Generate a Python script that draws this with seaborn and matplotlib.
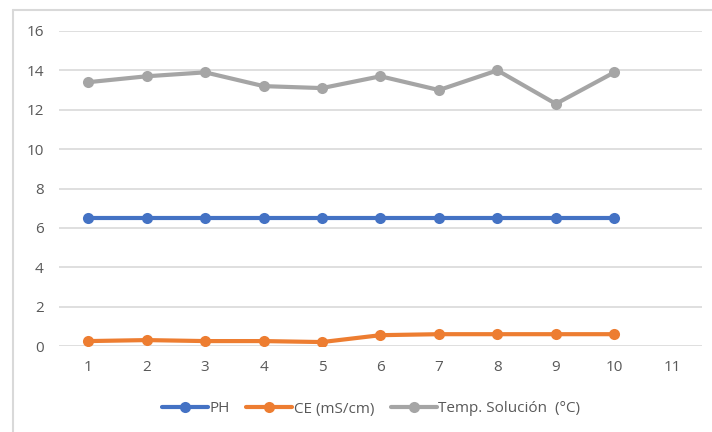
import matplotlib
matplotlib.use("Agg")
import matplotlib.pyplot as plt
from matplotlib.lines import Line2D
import seaborn as sns
import pandas as pd

categories = [1, 2, 3, 4, 5, 6, 7, 8, 9, 10, 11]
samples = [1, 2, 3, 4, 5, 6, 7, 8, 9, 10]
ph = [6.5, 6.5, 6.5, 6.5, 6.5, 6.5, 6.5, 6.5, 6.5, 6.5]
ce = [0.25, 0.3, 0.25, 0.25, 0.2, 0.55, 0.6, 0.6, 0.6, 0.6]
temp = [13.4, 13.7, 13.9, 13.2, 13.1, 13.7, 13.0, 14.0, 12.3, 13.9]
series_names = ["PH", "CE (mS/cm)", "Temp. Solución  (°C)"]
colors = ["#4472C4", "#ED7D31", "#A5A5A5"]

df = pd.concat([
    pd.DataFrame({"x": samples, "y": ph, "serie": series_names[0]}),
    pd.DataFrame({"x": samples, "y": ce, "serie": series_names[1]}),
    pd.DataFrame({"x": samples, "y": temp, "serie": series_names[2]}),
])

sns.set_style("white")
plt.rcParams["font.family"] = ["Open Sans", "DejaVu Sans"]

fig = plt.figure(figsize=(7.12, 4.32), dpi=100)
W, H = 712, 432
ax = fig.add_axes([59 / W, 1 - 346 / H, (702 - 59) / W, (346 - 31) / H])

sns.lineplot(data=df, x="x", y="y", hue="serie", hue_order=series_names,
             palette=colors, marker="o", markersize=8, markeredgewidth=0,
             linewidth=3, ax=ax, legend=False, zorder=3)

ax.set_xlim(0.5, 11.5)
ax.set_ylim(0, 16)
ax.set_yticks(range(0, 17, 2))
ax.set_xticks(categories)
ax.set_xticklabels([str(c) for c in categories])
ax.set_xlabel("")
ax.set_ylabel("")
ax.grid(axis="y", color="#D9D9D9", linewidth=1.2)
ax.grid(axis="x", visible=False)
for s in ax.spines.values():
    s.set_visible(False)
ax.tick_params(axis="both", length=0, labelsize=11, colors="#595959")
ax.tick_params(axis="y", pad=11)
ax.tick_params(axis="x", pad=10)

handles = [Line2D([0], [0], color=c, lw=3, marker="o", markersize=8, markeredgewidth=0)
           for c in colors]
fig.legend(handles, series_names, loc="center", bbox_to_anchor=(371 / W, 1 - 409 / H),
           ncol=3, frameon=False, fontsize=11, labelcolor="#595959",
           handlelength=3.0, handletextpad=0.1, columnspacing=1.1)

# chart area border (left and top visible)
fig.add_artist(Line2D([12.5 / W, 12.5 / W], [0, 1 - 10 / H], transform=fig.transFigure,
                      color="#D9D9D9", lw=1.5))
fig.add_artist(Line2D([12.5 / W, 1], [1 - 10 / H, 1 - 10 / H], transform=fig.transFigure,
                      color="#D9D9D9", lw=1.5))

fig.savefig("out.png", dpi=100, facecolor="white")
